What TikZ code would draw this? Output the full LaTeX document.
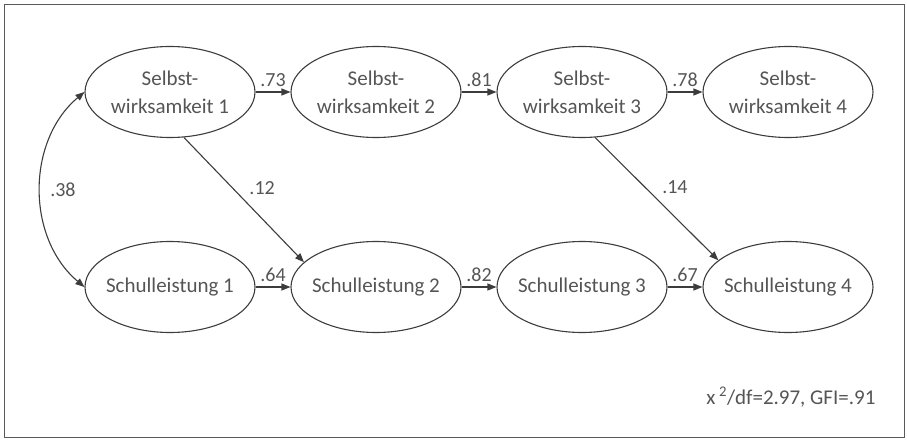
\documentclass[tikz,border=0pt]{standalone}
\usepackage{fontspec}
\setmainfont{Carlito}
\usetikzlibrary{arrows.meta,positioning,shapes.geometric}
\definecolor{textgray}{RGB}{85,85,85}
\definecolor{linegray}{RGB}{60,60,60}

\begin{document}
\begin{tikzpicture}[x=1pt,y=-1pt,>={Triangle[length=9pt,width=7pt]},auto,node distance=206pt,
  every node/.style={text=textgray,font=\fontsize{21}{28}\selectfont},
  var/.style={ellipse,draw=linegray,line width=1.1pt,minimum width=170pt,minimum height=91pt,inner xsep=-15pt,inner ysep=0pt,align=center},
  coef/.style={font=\fontsize{20}{22}\selectfont,inner sep=5pt},
  every edge/.style={draw=linegray,line width=1.1pt}]

\useasboundingbox (0,0) rectangle (907,441);
\draw[gray!70!black,line width=1pt] (4,5) rectangle (904,437);

\node[var]   (s1) at (170,92)   {Selbst-\\wirksamkeit 1};
\node[var]   (s2) [right of=s1] {Selbst-\\wirksamkeit 2};
\node[var]   (s3) [right of=s2] {Selbst-\\wirksamkeit 3};
\node[var]   (s4) [right of=s3] {Selbst-\\wirksamkeit 4};

\node[var]   (l1) [below of=s1,node distance=195pt] {Schulleistung 1};
\node[var]   (l2) [right of=l1] {Schulleistung 2};
\node[var]   (l3) [right of=l2] {Schulleistung 3};
\node[var]   (l4) [right of=l3] {Schulleistung 4};

\path[->] (s1)  edge  node[coef]{.73}  (s2)
(s2)  edge  node[coef]{.81}  (s3)
(s3)  edge  node[coef]{.78}  (s4)

(l1)  edge  node[coef]{.64}  (l2)
(l2)  edge  node[coef]{.82}  (l3)
(l3)  edge  node[coef]{.67}  (l4)

(s1.-73)  edge  node[coef,pos=0.5]{.12}  (l2.161)
(s3.-74)  edge  node[coef,pos=0.5]{.14}  (l4.159);

\path[<->] (s1.west) edge[out=220,in=140] node[coef,inner xsep=9pt]{.38} (l1.west);

\node[anchor=east] (fit) at (879,397) {x\,\textsuperscript{2}/df=2.97, GFI=.91};

\end{tikzpicture}
\end{document}
